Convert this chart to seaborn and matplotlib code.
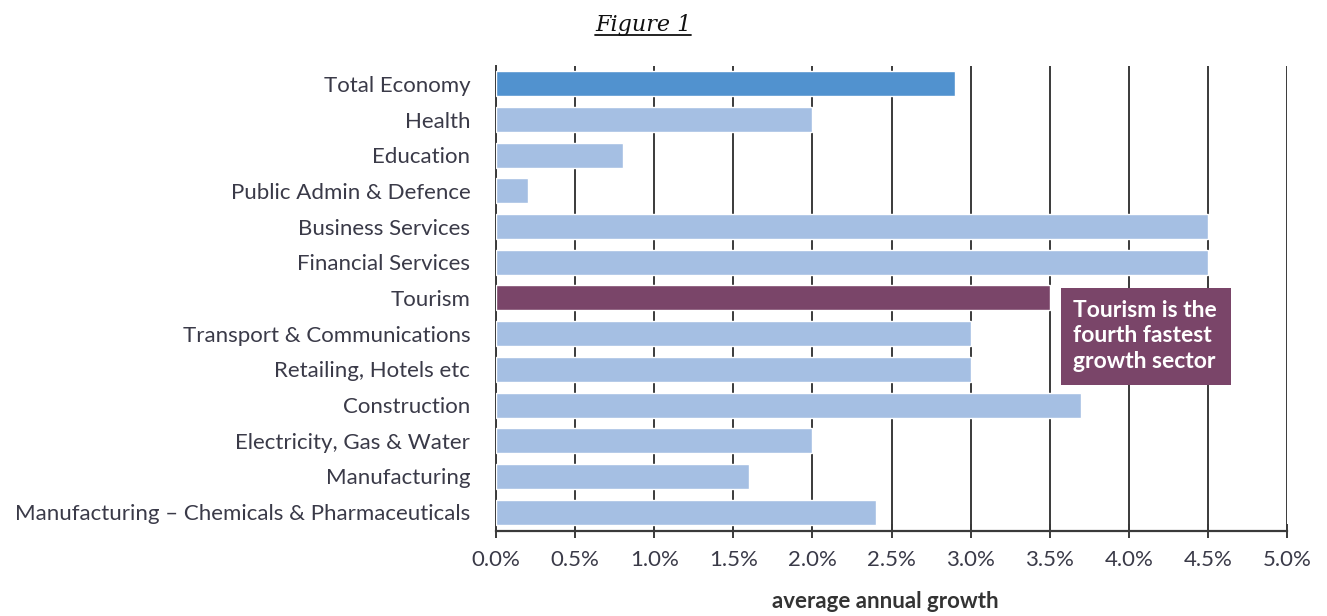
import matplotlib
matplotlib.use("Agg")
import matplotlib.pyplot as plt
import seaborn as sns
import pandas as pd
from matplotlib.lines import Line2D
from matplotlib.patches import Rectangle
from matplotlib.ticker import FuncFormatter, MultipleLocator

sectors = ["Total Economy", "Health", "Education", "Public Admin & Defence",
           "Business Services", "Financial Services", "Tourism",
           "Transport & Communications", "Retailing, Hotels etc", "Construction",
           "Electricity, Gas & Water", "Manufacturing",
           "Manufacturing \u2013 Chemicals & Pharmaceuticals"]
growth = [2.9, 2.0, 0.8, 0.2, 4.5, 4.5, 3.5, 3.0, 3.0, 3.7, 2.0, 1.6, 2.4]

c_total = "#5192CF"
c_other = "#A5BFE3"
c_tour = "#7A4569"
palette = {s: c_other for s in sectors}
palette["Total Economy"] = c_total
palette["Tourism"] = c_tour

df = pd.DataFrame({"sector": sectors, "growth": growth})

sns.set_style("white")
plt.rcParams["font.family"] = ["Lato", "DejaVu Sans"]

fig = plt.figure(figsize=(13.27, 6.16), dpi=100)
ax = fig.add_axes([496/1327, 1-531/616, (1287-496)/1327, (531-66)/616])

sns.barplot(data=df, x="growth", y="sector", hue="sector", palette=palette,
            order=sectors, hue_order=sectors, legend=False, ax=ax,
            width=0.70, saturation=1, orient="h", zorder=3)

ax.set_xlim(0, 5.0)
ax.set_ylim(12.53, -0.5)
ax.xaxis.set_major_locator(MultipleLocator(0.5))
ax.xaxis.set_major_formatter(FuncFormatter(lambda v, p: f"{v:.1f}%"))
ax.grid(axis="x", color="#3a3a3a", linewidth=1.4, zorder=0)
ax.grid(axis="y", visible=False)
ax.set_axisbelow(True)

for s in ["top", "right"]:
    ax.spines[s].set_visible(False)
ax.spines["left"].set_color("#3a3a3a")
ax.spines["left"].set_linewidth(1.4)
ax.spines["bottom"].set_color("#3a3a3a")
ax.spines["bottom"].set_linewidth(1.6)

ax.tick_params(axis="x", direction="inout", length=10, width=1.4, color="#3a3a3a",
               labelsize=16, labelcolor="#3a3a48", pad=9, bottom=True)
ax.tick_params(axis="y", length=0, labelsize=16, labelcolor="#3a3a48", pad=18.5)

ax.set_ylabel("")
ax.set_xlabel("average annual growth", fontsize=16, fontweight="bold",
              color="#333333")
ax.xaxis.set_label_coords((885-496)/(1287-496), -0.13)

# annotation callout box
ax.add_patch(Rectangle((3.571, 5.71), 1.075, 2.74, transform=ax.transData,
                       facecolor=c_tour, edgecolor="none", zorder=4, clip_on=False))
ax.text(3.647, 7.06, "Tourism is the\nfourth fastest\ngrowth sector",
        ha="left", va="center", fontsize=16.5, fontweight="bold", color="white",
        linespacing=1.25, zorder=5)

t = fig.text(643/1327, 1-25/616, "Figure 1", ha="center", va="center",
             fontsize=16, style="italic", family=["DejaVu Serif"],
             color="#111111")
fig.canvas.draw()
bb = t.get_window_extent().transformed(fig.transFigure.inverted())
fig.add_artist(Line2D([bb.x0, bb.x1], [bb.y0 + 0.002, bb.y0 + 0.002],
                      transform=fig.transFigure, color="#111111", linewidth=1.3))

fig.savefig("out.png", dpi=100)
